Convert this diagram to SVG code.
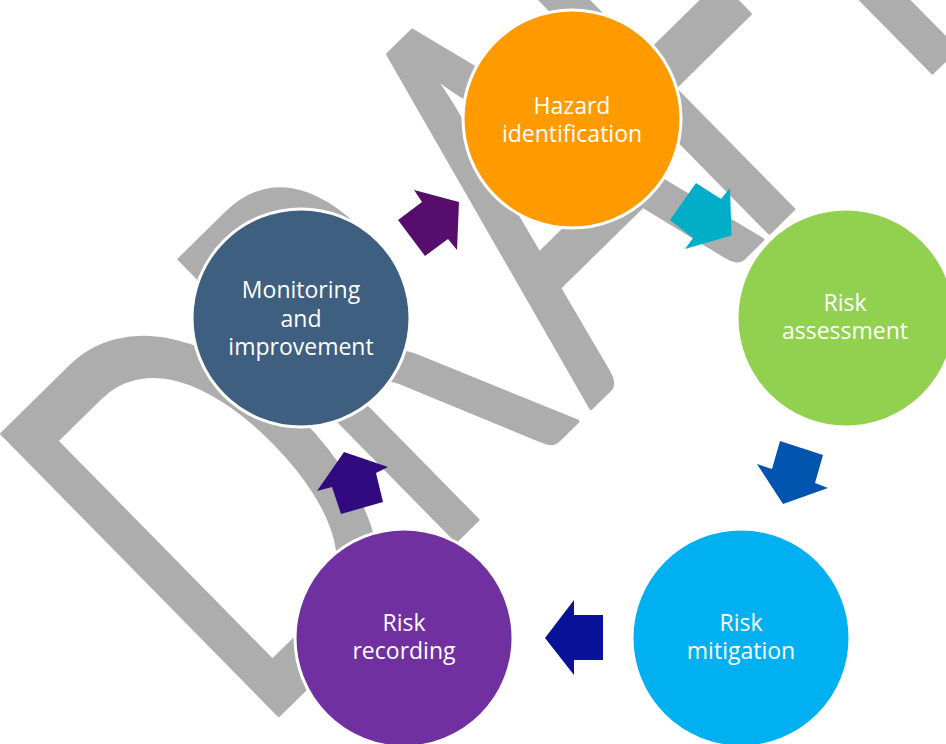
<svg xmlns="http://www.w3.org/2000/svg" width="946" height="744" viewBox="0 0 946 744">
<style>
.wm{font-family:Lato,"Open Sans",sans-serif;font-size:100px;fill:#ADADAD;stroke:#ADADAD;stroke-width:3;stroke-linejoin:round}
.node circle{stroke:#FFFFFF;stroke-width:3}
.lbl{font-family:"Open Sans","Liberation Sans",sans-serif;font-size:23px;fill:#FFFFFF;text-anchor:middle}
</style>
<rect width="946" height="744" fill="#FFFFFF"/>
<g id="watermark" transform="matrix(2.567,-2.524,3.862,3.928,278,716)">
<text class="wm" x="-9" y="0" vector-effect="non-scaling-stroke">D</text>
<text class="wm" transform="translate(61,0) scale(0.9,1)" x="0" y="0" vector-effect="non-scaling-stroke">R</text>
<text class="wm" x="121.5" y="0" vector-effect="non-scaling-stroke">A</text>
<text class="wm" x="182.1" y="0" vector-effect="non-scaling-stroke">F</text>
<text class="wm" x="230" y="0" vector-effect="non-scaling-stroke">T</text>
</g>
<g id="hazard" class="node">
<circle cx="572" cy="119" r="109" fill="#FF9A00"/>
<text class="lbl" x="572" y="114"><tspan x="572" y="114">Hazard</tspan><tspan x="572" y="142">identification</tspan></text>
</g>
<g id="assessment" class="node">
<circle cx="846" cy="318" r="109" fill="#92D050"/>
<text class="lbl" x="845" y="311"><tspan x="845" y="311">Risk</tspan><tspan x="845" y="339">assessment</tspan></text>
</g>
<g id="mitigation" class="node">
<circle cx="741" cy="638" r="109" fill="#00B0F0"/>
<text class="lbl" x="741" y="631"><tspan x="741" y="631">Risk</tspan><tspan x="741" y="659">mitigation</tspan></text>
</g>
<g id="recording" class="node">
<circle cx="404" cy="638" r="109" fill="#7030A0"/>
<text class="lbl" x="404" y="631"><tspan x="404" y="631">Risk</tspan><tspan x="404" y="659">recording</tspan></text>
</g>
<g id="monitoring" class="node">
<circle cx="301" cy="318" r="109" fill="#3E5F7F"/>
<text class="lbl" x="301" y="298"><tspan x="301" y="298">Monitoring</tspan><tspan x="301" y="326.5">and</tspan><tspan x="301" y="355">improvement</tspan></text>
</g>
<g id="connectors">
<polygon points="414,190 459,202 457,250 448,239 425,256 398,220 422,202" fill="#570D6C"/>
<polygon points="696,183 721,199 730,188 731.5,235.5 685,249 693,238 670,220" fill="#02AEC7"/>
<polygon points="780,441 823,455 815,483 828,488 783,504 757,464 772,469" fill="#0354AF"/>
<polygon points="603,615 603,660 574,660 574,675 545,638 574,600 574,615" fill="#0A129A"/>
<polygon points="344,452 388,467 376,473 383,502 341,514 332,487 317,491" fill="#320A80"/>
</g>
</svg>
